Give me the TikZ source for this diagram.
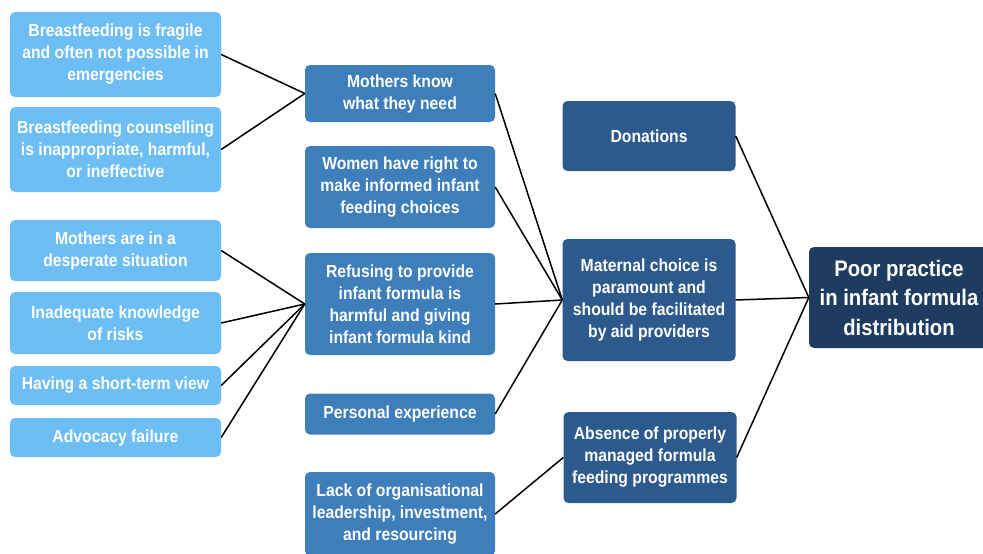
\documentclass[tikz,border=0pt]{standalone}
\usepackage{fontspec}
\setmainfont{Liberation Sans}[FakeStretch=0.9]
\definecolor{lightb}{RGB}{108,190,245}
\definecolor{midb}{RGB}{62,126,186}
\definecolor{darkb}{RGB}{44,90,140}
\definecolor{navyb}{RGB}{30,60,95}
\tikzset{
  box/.style={rounded corners=5pt, text=white, align=center, inner sep=0pt,
    font=\bfseries\fontsize{17.5}{22}\selectfont},
  lbox/.style={box, fill=lightb, minimum width=211pt},
  mbox/.style={box, fill=midb, minimum width=190pt},
  dbox/.style={box, fill=darkb, minimum width=173pt},
  link/.style={draw=black, line width=1.5pt}
}
\begin{document}
\begin{tikzpicture}[x=1pt,y=-1pt]
\useasboundingbox (0,0) rectangle (983,554);
\clip (0,0) rectangle (983,554);
\fill[white] (0,0) rectangle (983,554);
% left column
\node[lbox, minimum height=85pt] (l1) at (115.5,54.5) {Breastfeeding is fragile\\and often not possible in\\emergencies};
\node[lbox, minimum height=85pt] (l2) at (115.5,149.5) {Breastfeeding counselling\\is inappropriate, harmful,\\or ineffective};
\node[lbox, minimum height=61pt] (l3) at (115.5,250.5) {Mothers are in a\\desperate situation};
\node[lbox, minimum height=62pt] (l4) at (115.5,323) {Inadequate knowledge\\of risks};
\node[lbox, minimum height=39pt] (l5) at (115.5,385.5) {Having a short-term view};
\node[lbox, minimum height=39pt] (l6) at (115.5,437.5) {Advocacy failure};
% middle column
\node[mbox, minimum height=57pt] (m1) at (400,93.5) {Mothers know\\what they need};
\node[mbox, minimum height=82pt] (m2) at (400,187) {Women have right to\\make informed infant\\feeding choices};
\node[mbox, minimum height=102pt] (m3) at (400,304) {Refusing to provide\\infant formula is\\harmful and giving\\infant formula kind};
\node[mbox, minimum height=41pt] (m4) at (400,414) {Personal experience};
\node[mbox, minimum height=84pt] (m5) at (400,514) {Lack of organisational\\leadership, investment,\\and resourcing};
% third column
\node[dbox, minimum height=70pt] (d1) at (649,136) {Donations};
\node[dbox, minimum height=122pt] (d2) at (649,300) {Maternal choice is\\paramount and\\should be facilitated\\by aid providers};
\node[dbox, minimum height=91pt] (d3) at (650,457.5) {Absence of properly\\managed formula\\feeding programmes};
% outcome
\node[box, fill=navyb, minimum width=180pt, minimum height=101pt,
  font=\bfseries\fontsize{22.5}{29.5}\selectfont] (p) at (899,297.5) {Poor practice\\in infant formula\\distribution};
% connectors
\draw[link] (l1.east) -- (m1.west);
\draw[link] (l2.east) -- (m1.west);
\draw[link] (l3.east) -- (m3.west);
\draw[link] (l4.east) -- (m3.west);
\draw[link] (l5.east) -- (m3.west);
\draw[link] (l6.east) -- (m3.west);
\draw[link] (m1.east) -- (d2.west);
\draw[link] (m2.east) -- (d2.west);
\draw[link] (m3.east) -- (d2.west);
\draw[link] (m4.east) -- (d2.west);
\draw[link] (m5.east) -- (d3.west);
\draw[link] (d1.east) -- (p.west);
\draw[link] (d2.east) -- (p.west);
\draw[link] (d3.east) -- (p.west);
\end{tikzpicture}
\end{document}
